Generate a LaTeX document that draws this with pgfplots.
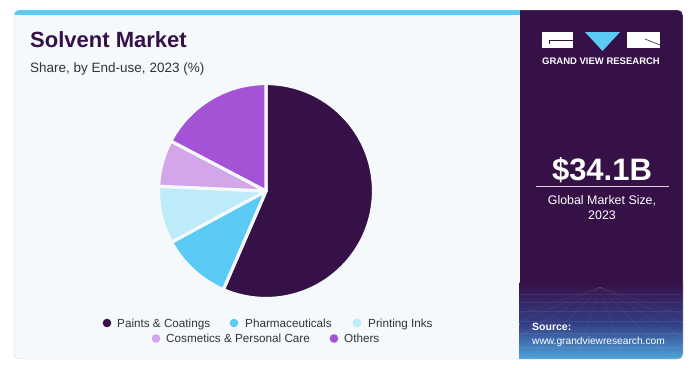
\documentclass[border=0pt]{standalone}
\usepackage{pgfplots}
\pgfplotsset{compat=1.18}
\usepackage{pgfplotstable}
\usepackage{fontspec}
\setmainfont{Liberation Sans}
\usetikzlibrary{calc}

\definecolor{cPaint}{HTML}{361148}
\definecolor{cPharma}{HTML}{5BCBF5}
\definecolor{cPrint}{HTML}{BDEBFA}
\definecolor{cCosm}{HTML}{D3A6EA}
\definecolor{cOther}{HTML}{A452D6}
\definecolor{panel}{HTML}{361148}
\definecolor{cardbg}{HTML}{F5F9FC}
\definecolor{topbar}{HTML}{5BCBF5}
\definecolor{gradmid}{HTML}{333F85}
\definecolor{gradbot}{HTML}{4FA6DC}
\definecolor{subtxt}{HTML}{333333}

\pgfplotstableread{
value col
56.5 cPaint
10.6 cPharma
8.6 cPrint
7.0 cCosm
17.3 cOther
}\piedata

\begin{document}
\begin{tikzpicture}[x=1bp,y=-1bp]
\fill[white] (0,0) rectangle (694,367);
\begin{scope}
  \clip[rounded corners=5bp] (14,10) rectangle (683,359);
  \fill[cardbg] (14,10) rectangle (683,359);
  \fill[topbar] (14,10) rectangle (519.5,15);
  \fill[panel] (519.5,10) rectangle (683,359);
  \shade[top color=panel, bottom color=gradmid] (519.5,282) rectangle (683,324);
  \shade[top color=gradmid, bottom color=gradbot] (519.5,324) rectangle (683,359.5);
  % faint perspective grid
  \foreach \yy in {294,302,311,321,333,347} {
    \draw[white, opacity=0.07, line width=0.5bp] (519.5,\yy) -- (683,\yy);
  }
  \foreach \xx in {-40,-10,20,50,80,110,140,170,200,230} {
    \draw[white, opacity=0.07, line width=0.5bp] (600,287) -- ({600+(\xx-95)*1.6},360);
  }
\end{scope}
\draw[black!15, rounded corners=5bp] (14,10) rectangle (683,359);

% logo
\fill[white] (542,32) rectangle (573,48);
\draw[panel, line width=0.6bp] (573,40) -- (549,40) -- (549,44);
\fill[topbar] (585,32) -- (620,32) -- (602.5,51) -- cycle;
\fill[white] (627,32) rectangle (660,48);
\draw[panel, line width=0.6bp] (645,39) -- (660,45);
\node[anchor=center, inner sep=0, text=white, font=\fontsize{9.5bp}{11bp}\selectfont\bfseries] at (601,61) {GRAND VIEW RESEARCH};

% titles
\node[anchor=base west, inner sep=0, text=panel, font=\fontsize{22bp}{26bp}\selectfont\bfseries] at (30,47) {Solvent Market};
\node[anchor=base west, inner sep=0, text=subtxt, font=\fontsize{13.5bp}{16bp}\selectfont] at (30,72) {Share, by End-use, 2023 (\%)};

% right panel texts
\node[anchor=base, inner sep=0, text=white, font=\fontsize{31bp}{34bp}\selectfont\bfseries] at (602,180) {\$34.1B};
\draw[white!80!panel, line width=0.8bp] (536,186) -- (669,186);
\node[anchor=base, inner sep=0, text=white, font=\fontsize{12.4bp}{14bp}\selectfont] at (602,204) {Global Market Size,};
\node[anchor=base, inner sep=0, text=white, font=\fontsize{12.4bp}{14bp}\selectfont] at (602,219) {2023};
\node[anchor=base west, inner sep=0, text=white, font=\fontsize{10.5bp}{12bp}\selectfont\bfseries] at (532,330) {Source:};
\node[anchor=base west, inner sep=0, text=white, font=\fontsize{10.2bp}{12bp}\selectfont] at (532,344) {www.grandviewresearch.com};

% pie
\begin{axis}[at={(266bp,-191bp)}, anchor=center, scale only axis,
  width=214bp, height=214bp, xmin=-1, xmax=1, ymin=-1, ymax=1,
  hide axis, clip=false]
\pgfplotsextra{%
  \pgfplotstablegetrowsof{\piedata}%
  \pgfmathtruncatemacro\nrows{\pgfplotsretval-1}%
  \xdef\cumangle{90}%
  \foreach \i in {0,...,\nrows}{%
    \pgfplotstablegetelem{\i}{value}\of\piedata \let\val\pgfplotsretval
    \pgfplotstablegetelem{\i}{col}\of\piedata \let\col\pgfplotsretval
    \pgfmathsetmacro\endangle{\cumangle-3.6*\val}%
    \filldraw[fill=\col, draw=cardbg, line width=3.2bp, line join=round]
      (axis cs:0,0) -- ++(\cumangle:107.5bp)
      arc[start angle=\cumangle, end angle=\endangle, radius=107.5bp] -- cycle;
    \xdef\cumangle{\endangle}%
  }%
}
\end{axis}

% legend
\begin{scope}[every node/.style={anchor=base west, inner sep=0, text=subtxt, font=\fontsize{11.7bp}{14bp}\selectfont}]
  \fill[cPaint] (107,323) circle (4.3bp);
  \node at (117,327.2) {Paints \& Coatings};
  \fill[cPharma] (234,323) circle (4.3bp);
  \node at (245,327.2) {Pharmaceuticals};
  \fill[cPrint] (357,323) circle (4.3bp);
  \node at (368,327.2) {Printing Inks};
  \fill[cCosm] (156,338.5) circle (4.3bp);
  \node at (166,342.7) {Cosmetics \& Personal Care};
  \fill[cOther] (334,338.5) circle (4.3bp);
  \node at (344,342.7) {Others};
\end{scope}
\end{tikzpicture}
\end{document}
